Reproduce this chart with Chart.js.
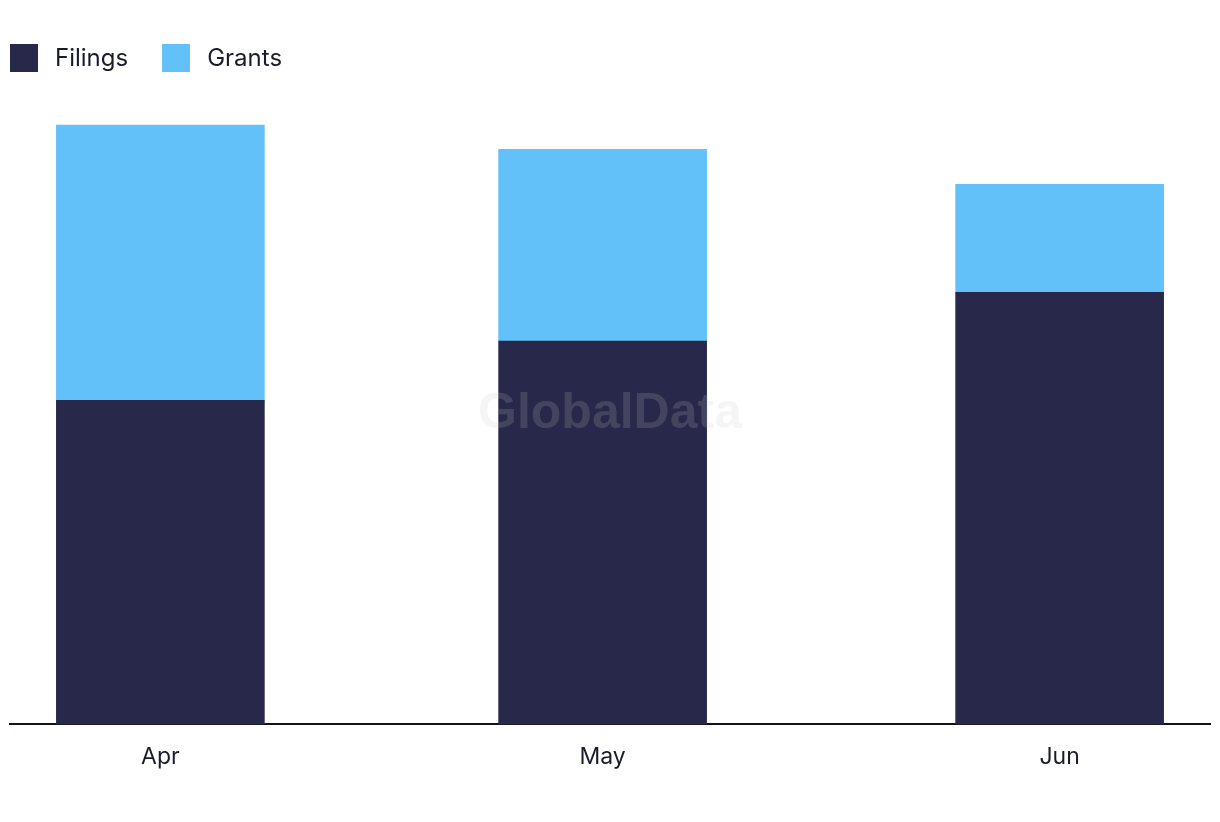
<!DOCTYPE html>
<html>
<head>
<meta charset="utf-8">
<script src="https://cdn.jsdelivr.net/npm/chart.js@4.4.1/dist/chart.umd.min.js"></script>
<style>
    html, body { margin: 0; padding: 0; background: #fff; }
    #wrap { position: relative; width: 1220px; height: 822px; }
    #legend {
        position: absolute; left: 10px; top: 43px;
        display: flex; align-items: center;
        font-family: Inter, sans-serif; font-size: 24px; color: #1a1a2e;
    }
    .item { display: flex; align-items: center; margin-right: 34px; }
    .swatch { width: 28px; height: 28px; margin-right: 17px; }
</style>
</head>
<body>
<div id="wrap">
    <div id="legend"></div>
    <canvas id="patentChart"></canvas>
</div>
<script>
// Months shown and the first day of each month
const months = ["Apr", "May", "Jun"];
const monthStarts = ["2024-04-01", "2024-05-01", "2024-06-01"];

// Series values
const filings = [60, 71, 80];
const grants = [51, 35.5, 20];

// Day offsets from the first month, so the bars sit on a time-like axis
const dayMs = 24 * 60 * 60 * 1000;
const firstDay = new Date(monthStarts[0]).getTime();
const dayOffsets = monthStarts.map(d => Math.round((new Date(d).getTime() - firstDay) / dayMs));

const toPoints = values => values.map((v, i) => ({ x: dayOffsets[i], y: v }));

// Faint watermark in the middle of the plot
const watermark = {
    id: "watermark",
    afterDatasetsDraw(chart) {
        const { ctx, chartArea } = chart;
        ctx.save();
        ctx.font = "bold 50px 'Liberation Sans', Arial, sans-serif";
        ctx.fillStyle = "rgba(200, 200, 200, 0.18)";
        ctx.textAlign = "center";
        ctx.textBaseline = "middle";
        ctx.fillText("GlobalData", (chartArea.left + chartArea.right) / 2, (chartArea.top + chartArea.bottom) / 2 + 3);
        ctx.restore();
    }
};

const ctx = document.getElementById("patentChart").getContext("2d");

const chart = new Chart(ctx, {
    type: "bar",
    data: {
        datasets: [
            {
                label: "Filings",
                data: toPoints(filings),
                backgroundColor: "#28284a",
                barThickness: 208
            },
            {
                label: "Grants",
                data: toPoints(grants),
                backgroundColor: "#62c1f9",
                barThickness: 208
            }
        ]
    },
    options: {
        responsive: true,
        maintainAspectRatio: false,
        animation: false,
        layout: {
            padding: { left: 10, right: 10, top: 98, bottom: 40 }
        },
        scales: {
            x: {
                type: "linear",
                stacked: true,
                offset: false,
                min: -10.2,
                max: 71.2,
                grid: { display: false },
                border: { display: true, color: "#111122", width: 2 },
                afterBuildTicks: axis => {
                    axis.ticks = dayOffsets.map(v => ({ value: v }));
                },
                ticks: {
                    padding: 11,
                    color: "#1a1a2e",
                    font: { family: "Inter, sans-serif", size: 23 },
                    callback: value => months[dayOffsets.indexOf(value)]
                }
            },
            y: {
                stacked: true,
                display: false,
                beginAtZero: true,
                max: 116
            }
        },
        plugins: {
            legend: { display: false },
            tooltip: { enabled: false }
        }
    },
    plugins: [watermark]
});

// Build the legend from the datasets
const legend = document.getElementById("legend");
chart.data.datasets.forEach(ds => {
    const item = document.createElement("div");
    item.className = "item";

    const swatch = document.createElement("span");
    swatch.className = "swatch";
    swatch.style.background = ds.backgroundColor;

    const label = document.createElement("span");
    label.textContent = ds.label;

    item.appendChild(swatch);
    item.appendChild(label);
    legend.appendChild(item);
});
</script>
</body>
</html>
